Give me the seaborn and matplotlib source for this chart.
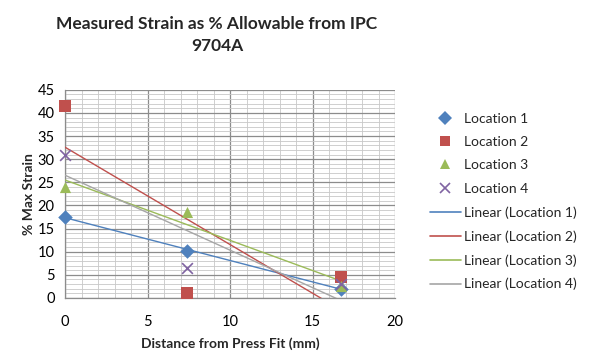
import numpy as np
import pandas as pd
import matplotlib
matplotlib.use("Agg")
import matplotlib.pyplot as plt
import seaborn as sns
from matplotlib.ticker import MultipleLocator
from matplotlib.lines import Line2D

distance = [0.0, 7.4, 16.7]
loc1 = [17.5, 10.2, 2.0]
loc2 = [41.5, 1.0, 4.5]
loc3 = [24.0, 18.5, 2.5]
loc4 = [31.0, 6.5, 3.0]
series_names = ["Location 1", "Location 2", "Location 3", "Location 4"]
title = "Measured Strain as % Allowable from IPC\n9704A"
x_ticks = [0, 5, 10, 15, 20]
y_ticks = [0, 5, 10, 15, 20, 25, 30, 35, 40, 45]

sns.set_style("white")
plt.rcParams['font.family'] = ['Lato', 'DejaVu Sans']

marker_colors = ["#4F81BD", "#C0504D", "#9BBB59", "#8064A2"]
line_colors = ["#4F81BD", "#C0504D", "#9BBB59", "#A6A6A6"]
markers = ["D", "s", "^", "x"]
msizes = [55, 75, 65, 60]

fig = plt.figure(figsize=(6.08, 3.58), dpi=100)
ax = fig.add_axes([0.107, 0.168, 0.543, 0.581])

ax.xaxis.set_major_locator(MultipleLocator(5))
ax.xaxis.set_minor_locator(MultipleLocator(1))
ax.yaxis.set_major_locator(MultipleLocator(5))
ax.yaxis.set_minor_locator(MultipleLocator(1))
ax.grid(which="major", color="#8C8C8C", linewidth=0.9)
ax.grid(which="minor", color="#C8C8C8", linewidth=0.6)
ax.set_axisbelow(True)

data = [loc1, loc2, loc3, loc4]
handles = []
for name, vals, mc, lc, mk, ms in zip(series_names, data, marker_colors, line_colors, markers, msizes):
    df = pd.DataFrame({"x": distance, "y": vals})
    sns.regplot(data=df, x="x", y="y", ax=ax, scatter=False, ci=None, truncate=True,
                line_kws=dict(color=lc, linewidth=1.0, zorder=3))
for name, vals, mc, lc, mk, ms in zip(series_names, data, marker_colors, line_colors, markers, msizes):
    df = pd.DataFrame({"x": distance, "y": vals})
    if mk == "x":
        sns.scatterplot(data=df, x="x", y="y", ax=ax, marker=mk, color=mc, s=ms,
                        linewidth=1.2, zorder=4, clip_on=False)
    else:
        sns.scatterplot(data=df, x="x", y="y", ax=ax, marker=mk, color=mc, s=ms,
                        edgecolor=mc, linewidth=0, zorder=4, clip_on=False)

ax.set_xlim(0, 20)
ax.set_ylim(0, 45)
ax.set_xticks(x_ticks)
ax.set_yticks(y_ticks)

for s in ["top", "right"]:
    ax.spines[s].set_visible(False)
for s in ["left", "bottom"]:
    ax.spines[s].set_color("#8C8C8C")
    ax.spines[s].set_linewidth(0.9)
ax.tick_params(axis="both", which="major", direction="out", length=4, color="#8C8C8C",
               labelsize=10.5, labelcolor="black")
ax.tick_params(axis="x", pad=8)
ax.tick_params(which="minor", length=0)

ax.set_xlabel("Distance from Press Fit (mm)", fontsize=10, fontweight="bold", labelpad=6)
ax.set_ylabel("% Max Strain", fontsize=10, fontweight="bold", labelpad=2)
fig.text(0.357, 0.955, title, ha="center", va="top", fontsize=12.5, fontweight="bold",
         linespacing=1.45)

for name, mc, mk in zip(series_names, marker_colors, markers):
    if mk == "x":
        handles.append(Line2D([], [], linestyle="none", marker=mk, color=mc, markersize=7,
                              markeredgewidth=1.2, label=name))
    else:
        handles.append(Line2D([], [], linestyle="none", marker=mk, color=mc, markersize=7,
                              markeredgewidth=0, label=name))
for name, lc in zip(series_names, line_colors):
    handles.append(Line2D([], [], color=lc, linewidth=1.2, label=f"Linear ({name})"))

fig.legend(handles=handles, loc="upper left", bbox_to_anchor=(0.695, 0.705), frameon=False,
           fontsize=10, handlelength=2.3, handletextpad=0.2, labelspacing=0.82, borderpad=0)

fig.savefig("out.png", dpi=100)
